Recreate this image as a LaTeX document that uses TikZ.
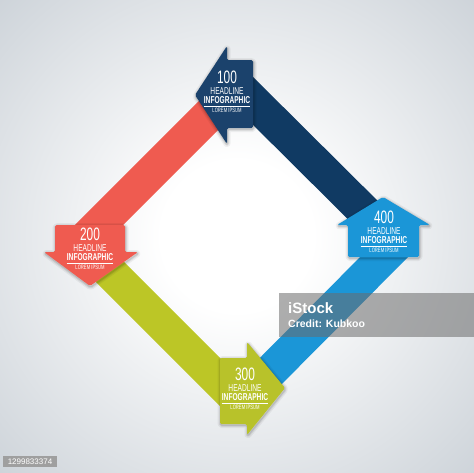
\documentclass[tikz,border=0pt]{standalone}
\usepackage{fontspec}
\newfontfamily\cf{Liberation Sans}[FakeStretch=0.66]
\newfontfamily\wmfont{Liberation Sans}
\definecolor{navyband}{RGB}{16,58,99}
\definecolor{navynode}{RGB}{27,66,108}
\definecolor{coral}{RGB}{239,91,80}
\definecolor{oliveband}{RGB}{188,198,38}
\definecolor{olivenode}{RGB}{184,194,42}
\definecolor{sky}{RGB}{27,150,215}
\definecolor{bgedge}{RGB}{205,211,217}
\pgfdeclareradialshading{bgshade}{\pgfpoint{0bp}{0bp}}{color(0bp)=(white); color(8bp)=(white); color(36bp)=(bgedge); color(50bp)=(bgedge)}
\tikzset{
  band/.style={line width=34pt},
  arrowshape/.style={rounded corners=1.5pt},
  shadowstroke/.style={black,line join=round,rounded corners=1.5pt,transform canvas={shift={(0.5pt,-1.2pt)}}},
  numtxt/.style={text=white,inner sep=0pt,font=\cf\fontsize{18}{18}\selectfont},
  headtxt/.style={text=white,inner sep=0pt,font=\cf\fontsize{10}{10}\selectfont},
  infotxt/.style={text=white,inner sep=0pt,font=\cf\bfseries\fontsize{10}{10}\selectfont},
  loremtxt/.style={text=white,inner sep=0pt,font=\cf\fontsize{6.3}{6.3}\selectfont},
}
\newcommand\infoblock[4]{%
  \node[numtxt] (#1num) at (#2,#3) {#4};
  \node[headtxt] (#1head) at (#2,#3+14) {HEADLINE};
  \node[infotxt] (#1info) at (#2,#3+23.5) {INFOGRAPHIC};
  \draw[white,line width=0.6pt] ([yshift=-1.8pt]#1info.south west) -- ([yshift=-1.8pt]#1info.south east);
  \node[loremtxt] (#1lorem) at (#2,#3+33.5) {LOREM IPSUM};
}
\newcommand\shpA{(195,95) -- (227,46) -- (227,60) -- (253,60) -- (253,128) -- (227,128) -- (227,144) -- cycle}
\newcommand\shpB{(55,225) -- (125,225) -- (125,252) -- (138,252) -- (90,286) -- (44,252) -- (55,252) -- cycle}
\newcommand\shpC{(220,358) -- (247,358) -- (247,342) -- (285,388) -- (247,435) -- (247,424) -- (220,424) -- cycle}
\newcommand\shpD{(383,197) -- (430,225) -- (419,225) -- (419,257) -- (348,257) -- (348,225) -- (337,225) -- cycle}
\newcommand\softshadow[1]{%
  \draw[shadowstroke,opacity=0.05,line width=6pt] #1;
  \draw[shadowstroke,opacity=0.07,line width=3.5pt] #1;
  \draw[shadowstroke,opacity=0.10,line width=1.5pt] #1;
}
\begin{document}
\begin{tikzpicture}[x=1pt,y=-1pt]
\useasboundingbox (0,0) rectangle (474,472);
\shade[shading=bgshade] (0,0) rectangle (474,472);
% corners of the diamond
\coordinate (T) at (238,86);
\coordinate (L) at (81,243);
\coordinate (B) at (240,402);
\coordinate (R) at (397,244);
% bands
\draw[band,coral] (L) -- (T);
\draw[band,navyband] (T) -- (R);
\draw[band,sky] (R) -- (B);
\draw[band,oliveband] (L) -- (B);
% arrow shapes with soft shadows
\softshadow{\shpA}
\fill[arrowshape,navynode] \shpA;
\softshadow{\shpB}
\fill[arrowshape,coral] \shpB;
\softshadow{\shpC}
\fill[arrowshape,olivenode] \shpC;
\softshadow{\shpD}
\fill[arrowshape,sky] \shpD;
% texts
\infoblock{a}{227}{77}{100}
\infoblock{b}{90}{234}{200}
\infoblock{c}{245}{374}{300}
\infoblock{d}{384}{217}{400}
% watermark
\fill[gray!85!black,opacity=0.55] (279,293) rectangle (474,337);
\node[anchor=west,inner sep=0pt,text=white,font=\wmfont\bfseries\fontsize{15}{15}\selectfont] (wm1) at (288,308) {iStock};
\node[anchor=west,inner sep=0pt,text=white,font=\wmfont\bfseries\fontsize{10.5}{10.5}\selectfont] (wm2) at (288,324) {Credit: Kubkoo};
\fill[gray!75] (3,456) rectangle (57,467);
\node[inner sep=0pt,text=white,font=\wmfont\fontsize{8}{8}\selectfont] (id) at (30,461.5) {1299833374};
\end{tikzpicture}
\end{document}
